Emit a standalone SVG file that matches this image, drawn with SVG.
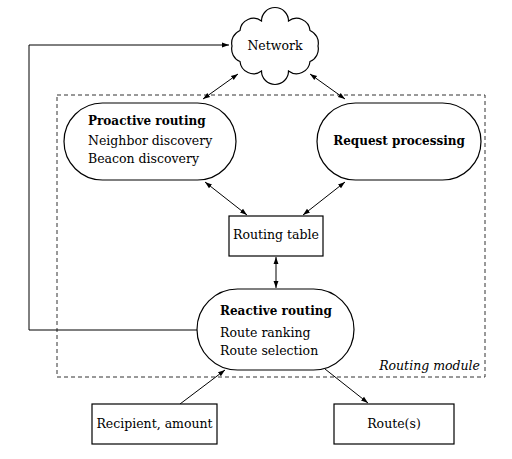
<svg xmlns="http://www.w3.org/2000/svg" width="512" height="459" viewBox="0 0 512 459">
<defs>
<marker id="ah" viewBox="0 0 10 10" refX="10" refY="5" markerWidth="7" markerHeight="7" markerUnits="userSpaceOnUse" orient="auto-start-reverse">
<path d="M0,1.5 L10,5 L0,8.5 Z" fill="#000"/>
</marker>
<style>
text{font-family:"DejaVu Serif","Liberation Serif",serif;font-size:12.5px;fill:#000}
.b{font-weight:bold;font-size:12px}
.i{font-style:italic}
.node{fill:#fff;stroke:#000;stroke-width:1.2}
.c{fill:none;stroke:#000;stroke-width:1}
</style>
</defs>
<rect width="512" height="459" fill="#fff"/>
<g id="routing-module">
<rect x="57" y="95" width="428" height="282" fill="none" stroke="#333" stroke-width="1" stroke-dasharray="4,3"/>
<text class="i" x="480" y="370" text-anchor="end">Routing module</text>
</g>
<g id="connectors">
<path class="c" d="M197,330 H29 V45 H229" marker-end="url(#ah)"/>
<path class="c" d="M203,99 L238,74" marker-start="url(#ah)" marker-end="url(#ah)"/>
<path class="c" d="M345,99 L310,74" marker-start="url(#ah)" marker-end="url(#ah)"/>
<path class="c" d="M205,182 L247,215" marker-start="url(#ah)" marker-end="url(#ah)"/>
<path class="c" d="M345,182 L303,215" marker-start="url(#ah)" marker-end="url(#ah)"/>
<path class="c" d="M276,257 L276,288" marker-start="url(#ah)" marker-end="url(#ah)"/>
<path class="c" d="M180,404 L225,370" marker-end="url(#ah)"/>
<path class="c" d="M325,369 L368,403" marker-end="url(#ah)"/>
</g>
<g id="network">
<path class="node" d="M318,46 A13.5,13.5 0 0 1 310,61.5 A13.5,13.5 0 0 1 288.5,71 A13.5,13.5 0 0 1 261.5,71 A13.5,13.5 0 0 1 240,61.5 A13.5,13.5 0 0 1 232,46 A13.5,13.5 0 0 1 240,30.5 A13.5,13.5 0 0 1 261.5,21 A13.5,13.5 0 0 1 288.5,21 A13.5,13.5 0 0 1 310,30.5 A13.5,13.5 0 0 1 318,46 Z"/>
<text x="275" y="50" text-anchor="middle">Network</text>
</g>
<g id="proactive-routing">
<rect class="node" x="64" y="103" width="172" height="77" rx="38.5" ry="38.5"/>
<text class="b" x="88" y="125">Proactive routing</text>
<text x="88" y="145">Neighbor discovery</text>
<text x="88" y="163">Beacon discovery</text>
</g>
<g id="request-processing">
<rect class="node" x="317" y="103" width="164" height="77" rx="38.5" ry="38.5"/>
<text class="b" x="399" y="145" text-anchor="middle">Request processing</text>
</g>
<g id="routing-table">
<rect class="node" x="229" y="216" width="94" height="40"/>
<text x="276" y="239" text-anchor="middle">Routing table</text>
</g>
<g id="reactive-routing">
<rect class="node" x="197" y="289" width="157" height="81" rx="40.5" ry="40.5"/>
<text class="b" x="220" y="315">Reactive routing</text>
<text x="220" y="337">Route ranking</text>
<text x="220" y="355">Route selection</text>
</g>
<g id="recipient-amount">
<rect class="node" x="92" y="404" width="125" height="40"/>
<text x="154.5" y="428" text-anchor="middle">Recipient, amount</text>
</g>
<g id="routes">
<rect class="node" x="334" y="404" width="120" height="40"/>
<text x="394" y="428" text-anchor="middle">Route(s)</text>
</g>
</svg>
